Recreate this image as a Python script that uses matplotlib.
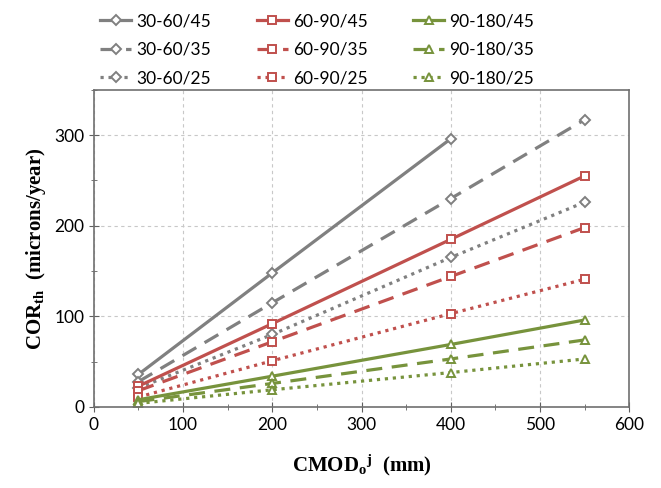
import numpy as np
import matplotlib.pyplot as plt
from matplotlib.ticker import MultipleLocator

# CMOD values (mm)
cmod = [50, 200, 400, 550]

# COR_th (microns/year)
cor_30_60_45 = [36, 148, 296]
cor_30_60_35 = [28, 115, 230, 317]
cor_30_60_25 = [21, 80, 165, 226]
cor_60_90_45 = [23, 92, 185, 255]
cor_60_90_35 = [18, 72, 144, 198]
cor_60_90_25 = [11, 51, 103, 141]
cor_90_180_45 = [8, 34, 69, 96]
cor_90_180_35 = [6, 26, 53, 74]
cor_90_180_25 = [4, 19, 38, 53]

GRAY = '#808080'
RED = '#c0504d'
GREEN = '#77933c'

series = [
    ('30-60/45', cor_30_60_45, GRAY, '-', 'D'),
    ('30-60/35', cor_30_60_35, GRAY, (0, (5, 3)), 'D'),
    ('30-60/25', cor_30_60_25, GRAY, (0, (1, 1.5)), 'D'),
    ('60-90/45', cor_60_90_45, RED, '-', 's'),
    ('60-90/35', cor_60_90_35, RED, (0, (5, 3)), 's'),
    ('60-90/25', cor_60_90_25, RED, (0, (1, 1.5)), 's'),
    ('90-180/45', cor_90_180_45, GREEN, '-', '^'),
    ('90-180/35', cor_90_180_35, GREEN, (0, (5, 3)), '^'),
    ('90-180/25', cor_90_180_25, GREEN, (0, (1, 1.5)), '^'),
]

plt.rcParams['font.family'] = ['Lato', 'DejaVu Sans']
plt.rcParams['mathtext.fontset'] = 'custom'
plt.rcParams['mathtext.rm'] = 'Liberation Serif'
plt.rcParams['mathtext.bf'] = 'Liberation Serif:bold'
plt.rcParams['mathtext.it'] = 'Liberation Serif:italic'

fig = plt.figure(figsize=(6.61, 4.88), dpi=100)
ax = fig.add_axes([0.142, 0.166, 0.81, 0.65])

for label, vals, color, ls, mk in series:
    ms = 5.5 if mk == 'D' else 6
    ax.plot(cmod[:len(vals)], vals, color=color, linestyle=ls, linewidth=2.3,
            marker=mk, markersize=ms, markerfacecolor='white',
            markeredgecolor=color, markeredgewidth=1.4, label=label)

ax.set_xlim(0, 600)
ax.set_ylim(0, 350)
ax.xaxis.set_major_locator(MultipleLocator(100))
ax.xaxis.set_minor_locator(MultipleLocator(50))
ax.yaxis.set_major_locator(MultipleLocator(100))
ax.yaxis.set_minor_locator(MultipleLocator(50))
ax.grid(True, which='major', color='#c8c8c8', linestyle=(0, (3, 3)), linewidth=0.8)
ax.tick_params(which='both', direction='inout', color='#606060', labelsize=12.5)
ax.tick_params(which='major', length=7)
ax.tick_params(which='minor', length=5)
for sp in ax.spines.values():
    sp.set_color('#707070')
    sp.set_linewidth(1.2)

ax.set_xlabel(r'CMOD$_\mathbf{o}$$^\mathbf{j}$  (mm)', family='Liberation Serif',
              fontweight='bold', fontsize=15, labelpad=14)
ax.set_ylabel(r'COR$_\mathbf{th}$  (microns/year)', family='Liberation Serif',
              fontweight='bold', fontsize=15, labelpad=4)

handles, labels = ax.get_legend_handles_labels()
fig.legend(handles, labels, loc='upper left', bbox_to_anchor=(0.128, 1.005), ncol=3,
           frameon=False, fontsize=12.5, handlelength=1.8, columnspacing=2.6,
           labelspacing=0.72, handletextpad=0.3)

fig.savefig('out.png', dpi=100)
